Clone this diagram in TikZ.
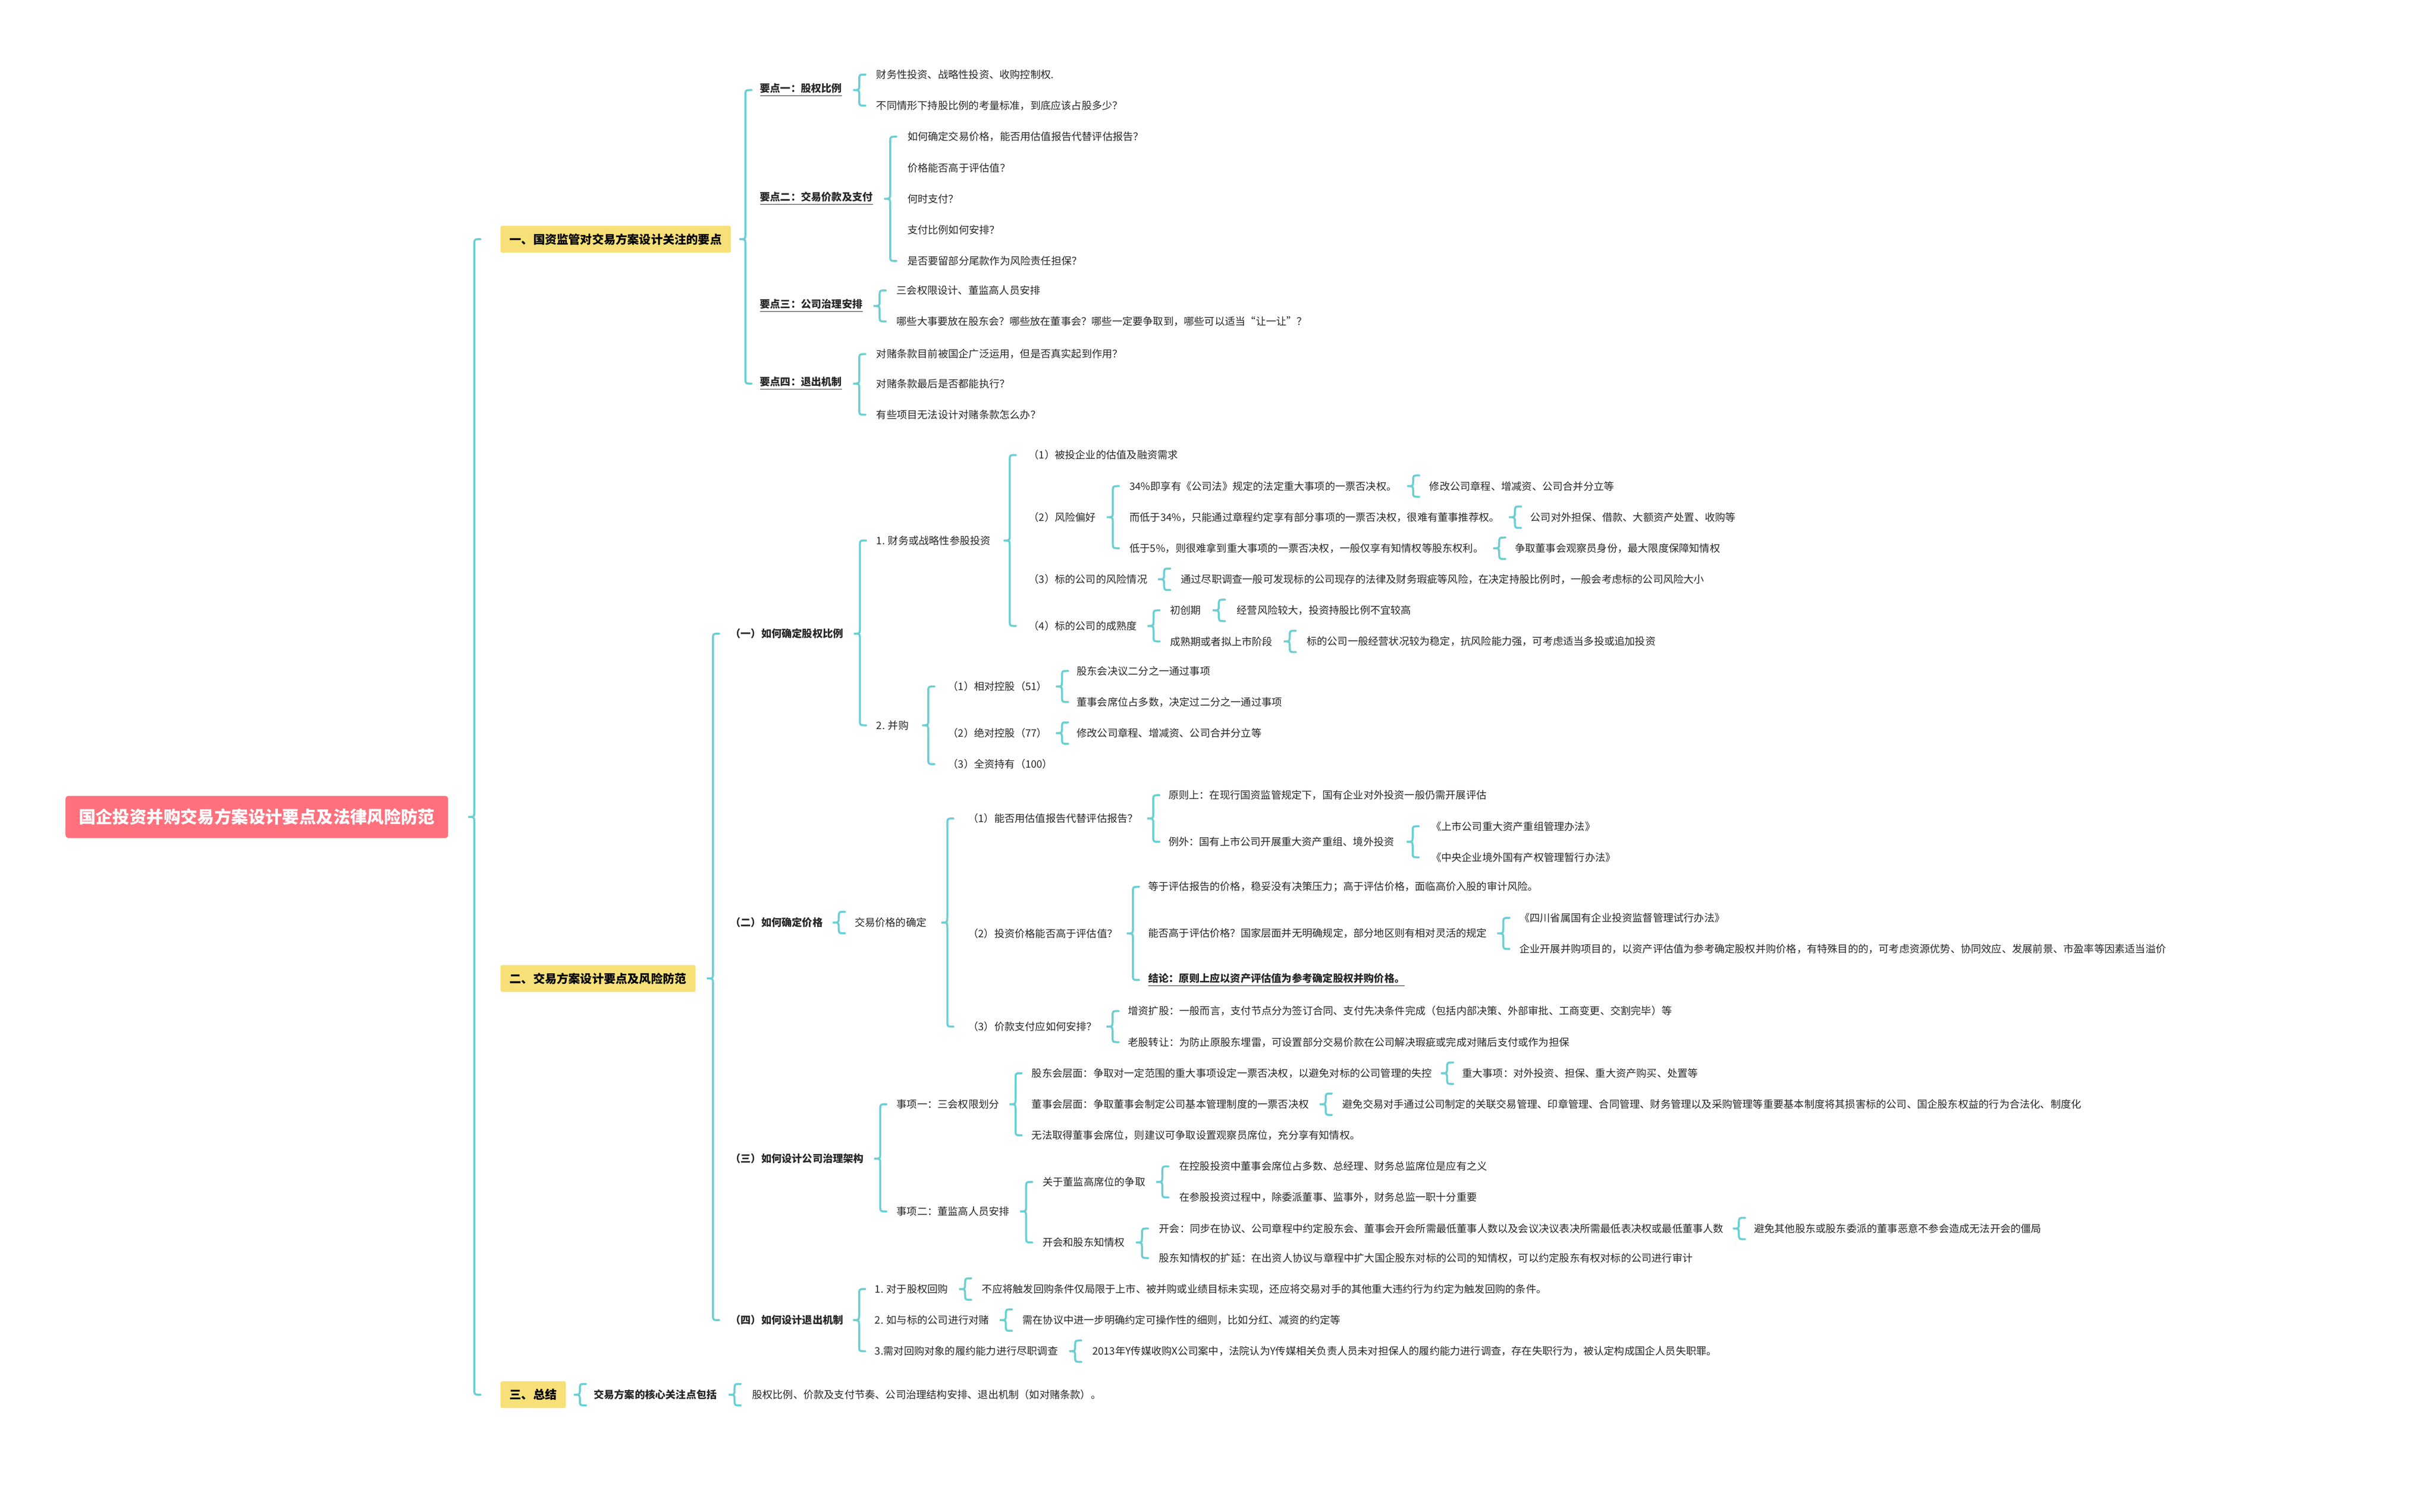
\documentclass[tikz,border=0pt]{standalone}
\usepackage{fontspec}
\setmainfont{Noto Sans CJK SC}
\usetikzlibrary{calc}
\definecolor{brcol}{RGB}{108,207,211}
\definecolor{rootcol}{RGB}{255,112,125}
\definecolor{hdcol}{RGB}{247,224,120}
\definecolor{txcol}{RGB}{40,40,40}
\tikzset{
  txt/.style={anchor=west, inner sep=0pt, text=txcol, font=\fontsize{5.75}{6.5}\selectfont},
  bld/.style={txt, font=\fontsize{5.75}{6.5}\selectfont\bfseries},
  hd/.style={anchor=west, fill=hdcol, rounded corners=1pt, inner xsep=1.8mm, minimum height=5.3mm, font=\fontsize{6.6}{7}\selectfont\bfseries},
  brc/.style={draw=brcol, line width=0.4mm, line cap=round}
}
% brace from parent to its first and last child
\newcommand*{\brc}[3]{%
  \draw[brc] let \p1=(#1.east), \p2=(#2.west), \p3=(#3.west), \n1={\x1/2+\x2/2} in
    (\n1+3.4pt,\y2) .. controls (\n1,\y2) .. (\n1,\y2-3.4pt) -- (\n1,\y1+3.4pt)
    .. controls (\n1,\y1) .. (\n1-3.4pt,\y1) .. controls (\n1,\y1) .. (\n1,\y1-3.4pt)
    -- (\n1,\y3+3.4pt) .. controls (\n1,\y3) .. (\n1+3.4pt,\y3);}
% brace to a single child
\newcommand*{\brs}[2]{%
  \draw[brc] let \p1=(#1.east), \p2=(#2.west), \n1={\x1/2+\x2/2} in
    (\n1+3.4pt,\y2+6pt) .. controls (\n1,\y2+6pt) .. (\n1,\y2+3pt)
    .. controls (\n1,\y1) .. (\n1-3.4pt,\y1) .. controls (\n1,\y1) .. (\n1,\y2-3pt)
    .. controls (\n1,\y2-6pt) .. (\n1+3.4pt,\y2-6pt);}
\begin{document}
\begin{tikzpicture}[x=0.3059mm, y=-0.3059mm]
\useasboundingbox (0,0) rectangle (1568.2,973.5);
\node[fill=rootcol, rounded corners=1.5pt, anchor=west, inner xsep=2.6mm, minimum height=8.3mm, text=white, font=\fontsize{9.5}{10}\selectfont\bfseries] (root) at (42,526) {国企投资并购交易方案设计要点及法律风险防范};
\node[hd] (hA) at (322,154) {一、国资监管对交易方案设计关注的要点};
\node[hd] (hB) at (322,630) {二、交易方案设计要点及风险防范};
\node[hd] (hC) at (322,898) {三、总结};
\brc{root}{hA}{hC}
% part one
\node[bld] (kA) at (489,58) {\underline{要点一：股权比例}};
\node[bld] (kB) at (489,128) {\underline{要点二：交易价款及支付}};
\node[bld] (kC) at (489,197) {\underline{要点三：公司治理安排}};
\node[bld] (kD) at (489,247) {\underline{要点四：退出机制}};
\brc{hA}{kA}{kD}
\node[txt] (kA1) at (564,48) {财务性投资、战略性投资、收购控制权.};
\node[txt] (kA2) at (564,68) {不同情形下持股比例的考量标准，到底应该占股多少？};
\brc{kA}{kA1}{kA2}
\node[txt] (kB1) at (584,88) {如何确定交易价格，能否用估值报告代替评估报告？};
\node[txt] (kB2) at (584,108) {价格能否高于评估值？};
\node[txt] (kB3) at (584,128) {何时支付？};
\node[txt] (kB4) at (584,148) {支付比例如何安排？};
\node[txt] (kB5) at (584,168) {是否要留部分尾款作为风险责任担保？};
\brc{kB}{kB1}{kB5}
\node[txt] (kC1) at (577,187) {三会权限设计、董监高人员安排};
\node[txt] (kC2) at (577,207) {哪些大事要放在股东会？哪些放在董事会？哪些一定要争取到，哪些可以适当“让一让”？};
\brc{kC}{kC1}{kC2}
\node[txt] (kD1) at (564,228) {对赌条款目前被国企广泛运用，但是否真实起到作用？};
\node[txt] (kD2) at (564,247) {对赌条款最后是否都能执行？};
\node[txt] (kD3) at (564,267) {有些项目无法设计对赌条款怎么办？};
\brc{kD}{kD1}{kD3}
% part two
\node[bld] (sA) at (470,408) {（一）如何确定股权比例};
\node[bld] (sB) at (470,594) {（二）如何确定价格};
\node[bld] (sC) at (470,746) {（三）如何设计公司治理架构};
\node[bld] (sD) at (470,850) {（四）如何设计退出机制};
\brc{hB}{sA}{sD}
% (一)
\node[txt] (aA) at (564,348) {1. 财务或战略性参股投资};
\node[txt] (aB) at (564,467) {2. 并购};
\brc{sA}{aA}{aB}
\node[txt] (aA1) at (662,293) {（1）被投企业的估值及融资需求};
\node[txt] (aA2) at (662,333) {（2）风险偏好};
\node[txt] (aA3) at (662,373) {（3）标的公司的风险情况};
\node[txt] (aA4) at (662,403) {（4）标的公司的成熟度};
\brc{aA}{aA1}{aA4}
\node[txt] (rA) at (727,313) {34\%即享有《公司法》规定的法定重大事项的一票否决权。};
\node[txt] (rB) at (727,333) {而低于34\%，只能通过章程约定享有部分事项的一票否决权，很难有董事推荐权。};
\node[txt] (rC) at (727,353) {低于5\%，则很难拿到重大事项的一票否决权，一般仅享有知情权等股东权利。};
\brc{aA2}{rA}{rC}
\node[txt] (rA1) at (920,313) {修改公司章程、增减资、公司合并分立等};
\brs{rA}{rA1}
\node[txt] (rB1) at (985,333) {公司对外担保、借款、大额资产处置、收购等};
\brs{rB}{rB1}
\node[txt] (rC1) at (975,353) {争取董事会观察员身份，最大限度保障知情权};
\brs{rC}{rC1}
\node[txt] (aA31) at (760,373) {通过尽职调查一般可发现标的公司现存的法律及财务瑕疵等风险，在决定持股比例时，一般会考虑标的公司风险大小};
\brs{aA3}{aA31}
\node[txt] (mA) at (753,393) {初创期};
\node[txt] (mB) at (753,413) {成熟期或者拟上市阶段};
\brc{aA4}{mA}{mB}
\node[txt] (mA1) at (796,393) {经营风险较大，投资持股比例不宜较高};
\brs{mA}{mA1}
\node[txt] (mB1) at (841,413) {标的公司一般经营状况较为稳定，抗风险能力强，可考虑适当多投或追加投资};
\brs{mB}{mB1}
\node[txt] (aB1) at (610,442) {（1）相对控股（51）};
\node[txt] (aB2) at (610,472) {（2）绝对控股（77）};
\node[txt] (aB3) at (610,492) {（3）全资持有（100）};
\brc{aB}{aB1}{aB3}
\node[txt] (cA) at (693,432) {股东会决议二分之一通过事项};
\node[txt] (cB) at (693,452) {董事会席位占多数，决定过二分之一通过事项};
\brc{aB1}{cA}{cB}
\node[txt] (cC) at (693,472) {修改公司章程、增减资、公司合并分立等};
\brs{aB2}{cC}
% (二)
\node[txt] (pA) at (550,594) {交易价格的确定};
\brs{sB}{pA}
\node[txt] (pA1) at (623,527) {（1）能否用估值报告代替评估报告？};
\node[txt] (pA2) at (623,601) {（2）投资价格能否高于评估值？};
\node[txt] (pA3) at (623,661) {（3）价款支付应如何安排？};
\brc{pA}{pA1}{pA3}
\node[txt] (eA) at (752,512) {原则上：在现行国资监管规定下，国有企业对外投资一般仍需开展评估};
\node[txt] (eB) at (752,542) {例外：国有上市公司开展重大资产重组、境外投资};
\brc{pA1}{eA}{eB}
\node[txt] (eB1) at (921,532) {《上市公司重大资产重组管理办法》};
\node[txt] (eB2) at (921,552) {《中央企业境外国有产权管理暂行办法》};
\brc{eB}{eB1}{eB2}
\node[txt] (vA) at (739,571) {等于评估报告的价格，稳妥没有决策压力；高于评估价格，面临高价入股的审计风险。};
\node[txt] (vB) at (739,601) {能否高于评估价格？国家层面并无明确规定，部分地区则有相对灵活的规定};
\node[bld] (vC) at (739,631) {\underline{结论：原则上应以资产评估值为参考确定股权并购价格。}};
\brc{pA2}{vA}{vC}
\node[txt] (vB1) at (978,591) {《四川省属国有企业投资监督管理试行办法》};
\node[txt] (vB2) at (978,611) {企业开展并购项目的，以资产评估值为参考确定股权并购价格，有特殊目的的，可考虑资源优势、协同效应、发展前景、市盈率等因素适当溢价};
\brc{vB}{vB1}{vB2}
\node[txt] (yA) at (726,651) {增资扩股：一般而言，支付节点分为签订合同、支付先决条件完成（包括内部决策、外部审批、工商变更、交割完毕）等};
\node[txt] (yB) at (726,671) {老股转让：为防止原股东埋雷，可设置部分交易价款在公司解决瑕疵或完成对赌后支付或作为担保};
\brc{pA3}{yA}{yB}
% (三)
\node[txt] (gA) at (577,711) {事项一：三会权限划分};
\node[txt] (gB) at (577,780) {事项二：董监高人员安排};
\brc{sC}{gA}{gB}
\node[txt] (gA1) at (664,691) {股东会层面：争取对一定范围的重大事项设定一票否决权，以避免对标的公司管理的失控};
\node[txt] (gA2) at (664,711) {董事会层面：争取董事会制定公司基本管理制度的一票否决权};
\node[txt] (gA3) at (664,731) {无法取得董事会席位，则建议可争取设置观察员席位，充分享有知情权。};
\brc{gA}{gA1}{gA3}
\node[txt] (gA11) at (941,691) {重大事项：对外投资、担保、重大资产购买、处置等};
\brs{gA1}{gA11}
\node[txt] (gA21) at (864,711) {避免交易对手通过公司制定的关联交易管理、印章管理、合同管理、财务管理以及采购管理等重要基本制度将其损害标的公司、国企股东权益的行为合法化、制度化};
\brs{gA2}{gA21}
\node[txt] (gB1) at (671,761) {关于董监高席位的争取};
\node[txt] (gB2) at (671,800) {开会和股东知情权};
\brc{gB}{gB1}{gB2}
\node[txt] (wA) at (759,751) {在控股投资中董事会席位占多数、总经理、财务总监席位是应有之义};
\node[txt] (wB) at (759,771) {在参股投资过程中，除委派董事、监事外，财务总监一职十分重要};
\brc{gB1}{wA}{wB}
\node[txt] (zA) at (746,791) {开会：同步在协议、公司章程中约定股东会、董事会开会所需最低董事人数以及会议决议表决所需最低表决权或最低董事人数};
\node[txt] (zB) at (746,810) {股东知情权的扩延：在出资人协议与章程中扩大国企股东对标的公司的知情权，可以约定股东有权对标的公司进行审计};
\brc{gB2}{zA}{zB}
\node[txt] (zA1) at (1129,791) {避免其他股东或股东委派的董事恶意不参会造成无法开会的僵局};
\brs{zA}{zA1}
% (四)
\node[txt] (xA) at (563,830) {1. 对于股权回购};
\node[txt] (xB) at (563,850) {2. 如与标的公司进行对赌};
\node[txt] (xC) at (563,870) {3.需对回购对象的履约能力进行尽职调查};
\brc{sD}{xA}{xC}
\node[txt] (xA1) at (632,830) {不应将触发回购条件仅局限于上市、被并购或业绩目标未实现，还应将交易对手的其他重大违约行为约定为触发回购的条件。};
\brs{xA}{xA1}
\node[txt] (xB1) at (658,850) {需在协议中进一步明确约定可操作性的细则，比如分红、减资的约定等};
\brs{xB}{xB1}
\node[txt] (xC1) at (703,870) {2013年Y传媒收购X公司案中，法院认为Y传媒相关负责人员未对担保人的履约能力进行调查，存在失职行为，被认定构成国企人员失职罪。};
\brs{xC}{xC1}
% part three
\node[bld] (tA) at (382,898) {交易方案的核心关注点包括};
\brs{hC}{tA}
\node[txt] (tA1) at (484,898) {股权比例、价款及支付节奏、公司治理结构安排、退出机制（如对赌条款）。};
\brs{tA}{tA1}
\end{tikzpicture}
\end{document}
